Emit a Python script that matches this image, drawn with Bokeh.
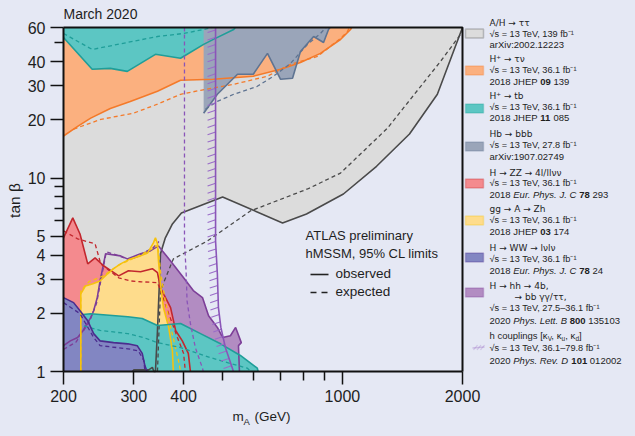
import math
import numpy as np
from bokeh.plotting import figure
from bokeh.models import (Range1d, FixedTicker, PrintfTickFormatter, Label,
                          BoxAnnotation, PolyAnnotation, GlobalInlineStyleSheet)
from bokeh.embed import file_html
from bokeh.resources import INLINE

# ---------------- data (m_A in GeV, tan beta) ----------------
x_ticks = [200, 300, 400, 1000, 2000]
x_minor = [500, 600, 700, 800, 900]
y_ticks = [1, 2, 3, 4, 5, 10, 20, 30, 40, 60]
y_minor = [6, 7, 8, 9, 50]
x_lim = [200, 2000]
y_lim = [1, 60]

# A/H -> tautau
tt_obs_m = [298, 300, 327, 334, 337, 340, 344, 348, 350, 360, 375, 395, 501, 708, 813, 1006, 1218, 1473, 1730, 2000]
tt_obs_tb = [1.0, 1.02, 1.02, 1.05, 1.0, 1.0, 1.63, 2.94, 4.06, 4.91, 5.79, 6.60, 7.98, 5.86, 6.52, 8.27, 11.5, 16.9, 27.1, 60]
tt_exp_m = [344, 350, 377, 459, 588, 818, 989, 1297, 1762, 2000]
tt_exp_tb = [1.0, 2.62, 3.82, 4.73, 6.76, 8.78, 10.6, 18.1, 40.1, 57]

# H+ -> tau nu
tn_obs_m = [200, 217, 234, 262, 294, 344, 393, 475, 598, 700, 785, 881, 989, 1048, 1055]
tn_obs_tb = [16.5, 18.5, 20.4, 22.9, 24.9, 28.1, 32.0, 32.4, 33.6, 36.5, 39.6, 44.1, 52.0, 58.6, 60]
tn_exp_m = [212, 248, 299, 344, 393, 441, 534, 649, 741, 866, 989, 1030, 1040]
tn_exp_tb = [17.9, 20.1, 21.6, 24.1, 27.1, 28.4, 30.5, 33.6, 38.7, 42.5, 52.7, 57.2, 60]

# H+ -> tb (high tan beta)
tbh_obs_m = [200, 236, 262, 289, 340, 393, 449, 475, 534, 539]
tbh_obs_tb = [53.3, 36.5, 36.9, 35.6, 43.6, 41.6, 49.1, 52.1, 58.6, 60]
tbh_exp_m = [200, 236, 289, 344, 400, 449, 470]
tbh_exp_tb = [55.9, 46.2, 50.2, 53.9, 55.9, 58.6, 60]

# H+ -> tb (low tan beta)
tbl_obs_m = [224, 234, 290, 315, 344, 393, 441, 495, 555, 612, 615]
tbl_obs_tb = [1.97, 1.99, 1.92, 1.88, 1.73, 1.77, 1.57, 1.39, 1.21, 1.04, 1.0]
tbl_exp_m = [225, 247, 290, 317, 344, 393, 467, 524, 578, 590]
tbl_exp_tb = [1.72, 1.63, 1.57, 1.50, 1.41, 1.33, 1.18, 1.10, 1.04, 1.0]

# Hb -> bbb
hb_obs_m = [449, 449, 486, 546, 598, 649, 700, 750, 785, 847, 897, 923, 931]
hb_obs_tb = [60, 21.6, 27.1, 34.4, 34.4, 44.1, 32.4, 32.8, 45.1, 53.9, 50.2, 58.6, 60]
hb_exp_m = [454, 486, 534, 612, 672, 741, 818, 881, 910]
hb_exp_tb = [22.7, 24.9, 27.1, 29.8, 33.6, 39.1, 49.1, 55.9, 60]

# H -> ZZ
zz_obs_m = [200, 211, 220, 230, 240, 252, 275, 291, 312, 334, 344, 350, 371, 382, 397, 411, 416]
zz_obs_tb = [4.91, 6.22, 5.14, 3.60, 3.87, 3.52, 3.12, 3.32, 3.28, 3.40, 3.24, 2.71, 2.14, 1.63, 1.44, 1.24, 1.0]
zz_exp_m = [200, 217, 240, 248, 275, 294, 312, 344, 350, 367, 386, 400, 404]
zz_exp_tb = [5.33, 4.85, 4.57, 3.60, 3.05, 2.94, 2.91, 2.88, 2.62, 1.99, 1.50, 1.24, 1.0]

# gg -> A -> Zh
zh_obs_m = [221, 221, 227, 237, 247, 258, 267, 278, 294, 312, 325, 336, 340, 344, 346, 350, 356, 367, 375, 377]
zh_obs_tb = [1.0, 2.52, 2.77, 2.84, 2.94, 3.20, 3.40, 3.60, 3.82, 3.96, 4.10, 4.62, 4.91, 4.57, 3.73, 2.84, 2.14, 1.69, 1.28, 1.0]
zh_exp_m = [221, 221, 232, 250, 275, 300, 330, 345, 350, 360, 370, 378, 388, 393]
zh_exp_tb = [1.0, 2.62, 2.92, 3.1, 3.55, 3.85, 4.25, 4.5, 3.3, 2.3, 1.75, 1.45, 1.15, 1.0]

# H -> WW
ww_obs_m = [200, 212, 220, 230, 238, 247, 267, 290, 306, 315, 320, 324]
ww_obs_tb = [2.41, 2.27, 2.06, 1.83, 1.57, 1.44, 1.41, 1.39, 1.36, 1.24, 1.07, 1.0]
ww_exp_m = [200, 220, 238, 247, 290, 308, 318, 320]
ww_exp_tb = [2.27, 1.99, 1.50, 1.36, 1.31, 1.28, 1.14, 1.0]

# H -> hh
hh_obs_m = [200, 208, 217, 224, 234, 238, 243, 247, 250, 255, 278, 289, 312, 330, 346, 354, 371, 400, 423,
            446, 462, 486, 501, 524, 540, 558, 549, 552]
hh_obs_tb = [1.36, 1.44, 1.50, 1.63, 1.90, 2.06, 2.41, 2.94, 3.32, 4.06, 3.96, 3.82, 4.06, 4.2, 4.46, 4.2, 3.73,
             3.05, 2.62, 2.41, 1.94, 1.69, 1.50, 1.53, 1.69, 1.41, 1.36, 1.0]
hh_exp_m = [200, 215, 232, 242, 250, 256, 270, 290, 305, 320, 335, 347]
hh_exp_tb = [1.30, 1.42, 1.80, 2.25, 3.2, 4.15, 4.02, 3.80, 3.9, 4.15, 4.35, 4.7]

# h couplings
cp_obs_m = [481, 481, 486, 489, 496, 509, 530, 533]
cp_obs_tb = [60, 4.73, 3.2, 2.14, 1.69, 1.33, 1.04, 1.0]
cp_exp_m = [402, 402, 406, 408, 416, 428, 446, 448]
cp_exp_tb = [60, 4.73, 3.2, 2.32, 1.77, 1.33, 1.04, 1.0]

# ---------------- layout / styles ----------------
W_FIG, H_FIG = 635, 436
OFF = 0                      # position of the figure on the page
PX_L, PX_R = 63, 462         # page x of m_A = 200 and 2000
PY_T, PY_B = 27, 371         # page y of tan b = 60 and 1
DEC_X = (PX_R - PX_L) / math.log10(x_lim[1] / x_lim[0])
DEC_Y = (PY_B - PY_T) / math.log10(y_lim[1] / y_lim[0])


def P(px, py):
    """page pixel -> data coordinates (for placing annotations)"""
    return x_lim[0] * 10 ** ((px - PX_L) / DEC_X), y_lim[0] * 10 ** ((PY_B - py) / DEC_Y)


xlo, yhi = P(OFF, OFF)
xhi, ylo = P(OFF + W_FIG, OFF + H_FIG)

BG = "#e5e8f4"
FONT = "Liberation Sans"
FONT2 = "DejaVu Sans"
TXT = "#1e1e1e"
C = {
    "tt": ("#dcdcdc", "#4a4a4a"),
    "tn": ("#fbb07f", "#f47a2a"),
    "tb": ("#5cc6c3", "#1f9e99"),
    "hb": ("#9aa5b9", "#5f7492"),
    "zz": ("#f48a8e", "#c2272e"),
    "zh": ("#fedc8c", "#f6c20f"),
    "ww": ("#8286c2", "#4b2d8e"),
    "hh": ("#b28cc2", "#7d3f98"),
    "cp": (None, "#8a55b8"),
}

p = figure(width=W_FIG, height=H_FIG, x_axis_type="log", y_axis_type="log",
           x_range=Range1d(xlo, xhi), y_range=Range1d(ylo, yhi),
           output_backend="svg", toolbar_location=None, tools="",
           min_border=0, background_fill_color=BG, border_fill_color=BG)
p.stylesheets = [GlobalInlineStyleSheet(css="html, body { background-color: %s; }" % BG)]
p.outline_line_color = None
p.grid.visible = False

p.xaxis.ticker = FixedTicker(ticks=x_ticks, minor_ticks=x_minor)
p.yaxis.ticker = FixedTicker(ticks=y_ticks, minor_ticks=y_minor)
p.xaxis.fixed_location = y_lim[0]
p.yaxis.fixed_location = x_lim[0]
p.xaxis.bounds = tuple(x_lim)
p.yaxis.bounds = tuple(y_lim)
for ax in (p.xaxis[0], p.yaxis[0]):
    ax.formatter = PrintfTickFormatter(format="%d")
    ax.axis_line_width = 2
    ax.axis_line_color = "#111111"
    ax.major_tick_out = 13
    ax.major_tick_in = 0
    ax.minor_tick_out = 9
    ax.minor_tick_in = 0
    ax.major_tick_line_width = 1.5
    ax.minor_tick_line_width = 1.5
    ax.major_tick_line_color = "#111111"
    ax.minor_tick_line_color = "#111111"
    ax.major_label_text_font = FONT
    ax.major_label_text_font_size = "16px"
    ax.major_label_text_color = TXT
    ax.major_label_standoff = 5


def patch(mx, my, key):
    p.patch(mx, my, fill_color=C[key][0], line_color=None)


def line(mx, my, key, dashed=False):
    if dashed:
        p.line(mx, my, line_color=C[key][1], line_width=1.3, line_dash="4 3")
    else:
        p.line(mx, my, line_color=C[key][1], line_width=1.6)


# ---------------- fills (back to front) ----------------
patch([200] + hh_obs_m, [1.0] + hh_obs_tb, "hh")
patch([200, 200] + tt_obs_m, [60, 1.0] + tt_obs_tb, "tt")
patch(tn_obs_m + [200], tn_obs_tb + [60], "tn")
patch(tbh_obs_m + [200], tbh_obs_tb + [60], "tb")
patch(hb_obs_m, hb_obs_tb, "hb")
patch([200] + zz_obs_m, [1.0] + zz_obs_tb, "zz")
patch(zh_obs_m, zh_obs_tb, "zh")
patch(tbl_obs_m + [tbl_obs_m[0]], tbl_obs_tb + [1.0], "tb")
patch([200] + ww_obs_m, [1.0] + ww_obs_tb, "ww")

# ---------------- contour lines ----------------
line(tt_obs_m, tt_obs_tb, "tt"); line(tt_exp_m, tt_exp_tb, "tt", True)
line(tn_obs_m, tn_obs_tb, "tn"); line(tn_exp_m, tn_exp_tb, "tn", True)
line(tbh_obs_m, tbh_obs_tb, "tb"); line(tbh_exp_m, tbh_exp_tb, "tb", True)
line(hb_obs_m[1:], hb_obs_tb[1:], "hb"); line(hb_exp_m, hb_exp_tb, "hb", True)
line(hh_obs_m, hh_obs_tb, "hh"); line(hh_exp_m, hh_exp_tb, "hh", True)
line(zz_obs_m, zz_obs_tb, "zz"); line(zz_exp_m, zz_exp_tb, "zz", True)
line(zh_obs_m, zh_obs_tb, "zh"); line(zh_exp_m, zh_exp_tb, "zh", True)
line(tbl_obs_m, tbl_obs_tb, "tb"); line(tbl_exp_m, tbl_exp_tb, "tb", True)
line(ww_obs_m, ww_obs_tb, "ww"); line(ww_exp_m, ww_exp_tb, "ww", True)
line(cp_exp_m, cp_exp_tb, "cp", True)

# hatching on the excluded (low-mass) side of the h-couplings limit
lt = np.log10(np.array(cp_obs_tb[::-1], dtype=float))
lm = np.log10(np.array(cp_obs_m[::-1], dtype=float))
hy = 10 ** np.arange(0.03, np.log10(60) + 0.05, 7.3 / DEC_Y)
hy = hy[hy <= 60]
hx = 10 ** np.interp(np.log10(hy), lt, lm)
p.segment(hx * 10 ** (-8 / DEC_X), hy * 10 ** (-2.7 / DEC_Y), hx, hy, line_color="#9a6cc8", line_width=1.1)
line(cp_obs_m, cp_obs_tb, "cp")

# top and right edges of the plotting box (left/bottom are the axes)
p.line([x_lim[0], x_lim[1], x_lim[1]], [y_lim[1], y_lim[1], y_lim[0]], line_color="#111111", line_width=2)


# ---------------- texts ----------------
def lab(px, py, text, size, style="normal", align="left", color=TXT, angle=0.0, font=FONT):
    x, y = P(px, py)
    p.add_layout(Label(x=x, y=y, text=text, text_font=font, text_font_size="%spx" % size,
                       text_font_style=style, text_align=align, text_baseline="middle",
                       text_color=color, angle=angle))


WID = {' ': .278, '.': .278, ',': .278, 'J': .5, 'H': .722, 'E': .667, 'P': .667, 'u': .556,
       'r': .333, 'h': .556, 'y': .5, 's': .5, 'C': .722, 'L': .556, 'e': .556, 't': .278,
       'B': .667, 'R': .722, 'v': .5, 'D': .722, '[': .278, ']': .278, 'κ': .52, 'c': .5,
       'o': .556, 'p': .556, 'l': .222, 'i': .222, 'n': .556, 'g': .556}


def tw(s, fs):
    return sum(WID.get(ch, .556) for ch in s) * fs


def rich(px, py, segs, fs=9.5, font=FONT):
    x = px
    for txt, style, sub in segs:
        f = fs * 0.68 if sub else fs
        lead = len(txt) - len(txt.lstrip(' '))
        body = txt.strip(' ')
        if body:
            lab(x + tw(txt[:lead], f), py + (2.5 if sub else 0), body, f, style, font=font)
        x += tw(txt, f)


lab(63, 13, "March 2020", 14)
lab(305, 235, "ATLAS preliminary", 13)
lab(305, 253, "hMSSM, 95% CL limits", 13)
lab(335, 273, "observed", 13.5)
lab(335, 291, "expected", 13.5)
xo0, yo0 = P(310, 274)
xo1, _ = P(328, 274)
p.line([xo0, xo1], [yo0, yo0], line_color="#222222", line_width=1.6)
xe0, ye0 = P(310, 292)
xe1, _ = P(328, 292)
p.line([xe0, xe1], [ye0, ye0], line_color="#222222", line_width=1.6, line_dash="6 5")

# axis titles
lab(232, 416, "m", 13.5)
lab(243, 421, "A", 9.5)
lab(254, 416, "(GeV)", 13.5)
lab(14, 200, "tan β", 15.5, align="center", angle=math.pi / 2)

# ---------------- legend ----------------
N, B, I = "normal", "bold", "italic"
legend = [
    ("tt", 33, [(22, [("A/H → ττ", N, 0)]), (33, [("√s = 13 TeV, 139 fb⁻¹", N, 0)]),
                (44, [("arXiv:2002.12223", N, 0)])]),
    ("tn", 70, [(58, [("H⁺ → τν", N, 0)]), (69, [("√s = 13 TeV, 36.1 fb⁻¹", N, 0)]),
                (81, [("2018 JHEP ", N, 0), ("09", B, 0), (" 139", N, 0)])]),
    ("tb", 108, [(95, [("H⁺ → tb", N, 0)]), (106, [("√s = 13 TeV, 36.1 fb⁻¹", N, 0)]),
                 (117, [("2018 JHEP ", N, 0), ("11", B, 0), (" 085", N, 0)])]),
    ("hb", 146, [(133, [("Hb → bbb", N, 0)]), (144, [("√s = 13 TeV, 27.8 fb⁻¹", N, 0)]),
                 (156, [("arXiv:1907.02749", N, 0)])]),
    ("zz", 183, [(172, [("H → ZZ → 4l/llνν", N, 0)]), (182, [("√s = 13 TeV, 36.1 fb⁻¹", N, 0)]),
                 (194, [("2018 ", N, 0), ("Eur. Phys. J. C", I, 0), (" ", N, 0), ("78", B, 0), (" 293", N, 0)])]),
    ("zh", 220, [(208, [("gg → A → Zh", N, 0)]), (219, [("√s = 13 TeV, 36.1 fb⁻¹", N, 0)]),
                 (231, [("2018 JHEP ", N, 0), ("03", B, 0), (" 174", N, 0)])]),
    ("ww", 257, [(247, [("H → WW → lνlν", N, 0)]), (258, [("√s = 13 TeV, 36.1 fb⁻¹", N, 0)]),
                 (270, [("2018 ", N, 0), ("Eur. Phys. J. C", I, 0), (" ", N, 0), ("78", B, 0), (" 24", N, 0)])]),
    ("hh", 292, [(285, [("H → hh → 4b,", N, 0)]), (296, [("          → bb γγ/ττ,", N, 0)]),
                 (307, [("√s = 13 TeV, 27.5–36.1 fb⁻¹", N, 0)]),
                 (320, [("2020 ", N, 0), ("Phys. Lett. B", I, 0), (" ", N, 0), ("800", B, 0), (" 135103", N, 0)])]),
    ("cp", 347, [(335, [("h couplings [κ", N, 0), ("V", N, 1), (", κ", N, 0), ("u", N, 1), (", κ", N, 0),
                        ("d", N, 1), ("]", N, 0)]),
                 (347, [("√s = 13 TeV, 36.1–79.8 fb⁻¹", N, 0)]),
                 (360, [("2020 ", N, 0), ("Phys. Rev. D", I, 0), (" ", N, 0), ("101", B, 0), (" 012002", N, 0)])]),
]

for key, yc, rows in legend:
    fill, lcol = C[key]
    if fill is not None:
        l, t = P(465, yc - 4.5)
        r, b = P(483, yc + 4.5)
        p.add_layout(BoxAnnotation(left=l, right=r, top=t, bottom=b, fill_color=fill, fill_alpha=1,
                                   line_color=lcol, line_width=1.5))
    else:
        xa, ya = P(472, yc + 0.5)
        xb, yb = P(484, yc - 0.5)
        p.add_layout(PolyAnnotation(xs=[xa, xb, xa], ys=[ya, yb, ya], fill_alpha=0,
                                    line_color=lcol, line_width=1.3))
        for k in range(3):
            xs0, ys0 = P(473 + 3.5 * k, yc + 2.5)
            xs1, ys1 = P(477 + 3.5 * k, yc - 2.5)
            p.add_layout(PolyAnnotation(xs=[xs0, xs1, xs0], ys=[ys0, ys1, ys0], fill_alpha=0,
                                        line_color="#9a6cc8", line_width=1.2))
    for py, segs in rows:
        first = segs[0][0]
        if "→" in first:
            rich(489, py, segs, 9, FONT2)
        elif first.startswith("√"):
            rich(489, py, segs, 9.2)
        else:
            rich(489, py, segs, 9.5)

open("out.html", "w").write(file_html(p, INLINE))
